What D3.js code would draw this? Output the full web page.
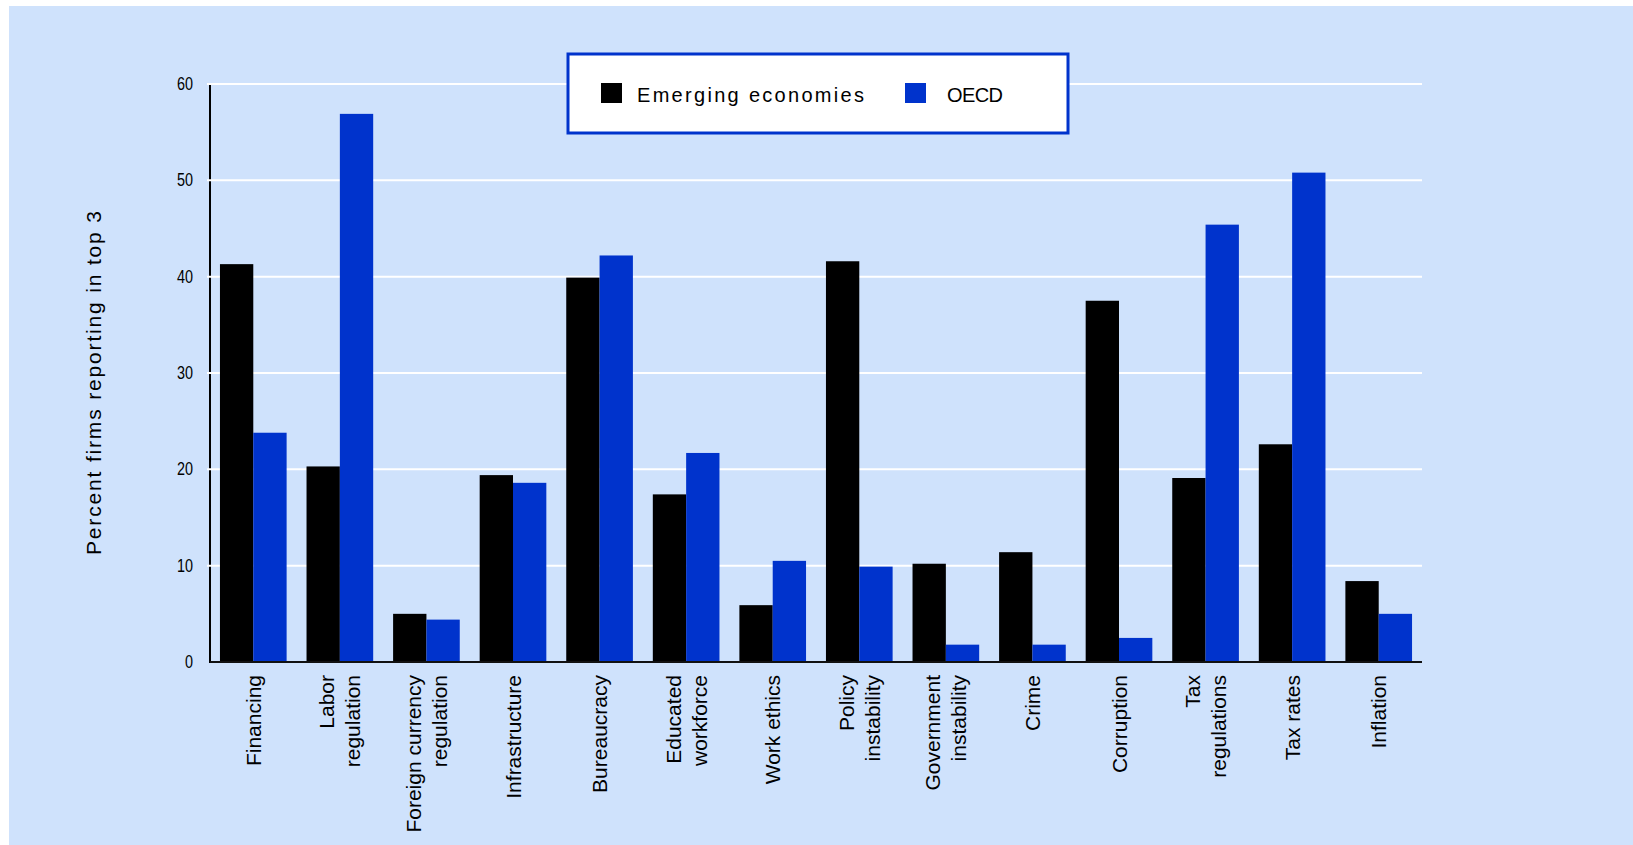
<!DOCTYPE html>
<html>
<head>
<meta charset="utf-8">
<script src="https://cdn.jsdelivr.net/npm/d3@7"></script>
<style>
  html, body { margin: 0; padding: 0; background: #ffffff; }
  svg { display: block; }
  text { font-family: "Liberation Sans", Arial, sans-serif; fill: #000; }
</style>
</head>
<body>
<svg id="chart" width="1633" height="845"></svg>
<script>
// ---- Data ----
const categories = [
  ["Financing"],
  ["Labor", "regulation"],
  ["Foreign currency", "regulation"],
  ["Infrastructure"],
  ["Bureaucracy"],
  ["Educated", "workforce"],
  ["Work ethics"],
  ["Policy", "instability"],
  ["Government", "instability"],
  ["Crime"],
  ["Corruption"],
  ["Tax", "regulations"],
  ["Tax rates"],
  ["Inflation"]
];
const seriesNames = ["Emerging economies", "OECD"];
const emerging = [41.3, 20.3, 5.0, 19.4, 39.9, 17.4, 5.9, 41.6, 10.2, 11.4, 37.5, 19.1, 22.6, 8.4];
const oecd     = [23.8, 56.9, 4.4, 18.6, 42.2, 21.7, 10.5, 9.9, 1.8, 1.8, 2.5, 45.4, 50.8, 5.0];
const yTicks = [0, 10, 20, 30, 40, 50, 60];
const yTitle = "Percent firms reporting in top 3";

// ---- Layout ----
const W = 1633, H = 845;
const colors = { "Emerging economies": "#000000", "OECD": "#0033cc" };
const bg = "#cfe2fc";
const plot = { left: 210, right: 1422, top: 84, bottom: 662 };

const svg = d3.select("#chart");

// panel background
svg.append("rect").attr("x", 9).attr("y", 6).attr("width", W - 9).attr("height", H - 6).attr("fill", bg);

const catKeys = categories.map(c => c.join(" "));
const x0 = d3.scaleBand().domain(catKeys).range([plot.left, plot.right]).paddingInner(0.23).paddingOuter(0.115);
const x1 = d3.scaleBand().domain(seriesNames).range([0, x0.bandwidth()]).padding(0);
const y = d3.scaleLinear().domain([0, 60]).range([plot.bottom, plot.top]);

// y axis line
svg.append("line").attr("x1", plot.left).attr("x2", plot.left)
  .attr("y1", y(60)).attr("y2", y(0) + 1).attr("stroke", "#000").attr("stroke-width", 2);

// gridlines
svg.append("g").selectAll("line").data(yTicks.filter(d => d > 0)).join("line")
  .attr("x1", plot.left - 3).attr("x2", plot.right)
  .attr("y1", d => y(d)).attr("y2", d => y(d))
  .attr("stroke", "#ffffff").attr("stroke-width", 2);

// y tick labels
svg.append("g").selectAll("text").data(yTicks).join("text")
  .attr("x", 193).attr("y", d => y(d))
  .attr("text-anchor", "end").attr("dominant-baseline", "central")
  .attr("font-size", 18)
  .attr("textLength", d => String(d).length * 8)
  .attr("lengthAdjust", "spacingAndGlyphs")
  .text(d => d);

// bars
const rows = catKeys.map((k, i) => ({ key: k, values: [
  { s: seriesNames[0], v: emerging[i] },
  { s: seriesNames[1], v: oecd[i] }
]}));
const groups = svg.append("g").selectAll("g").data(rows).join("g")
  .attr("transform", d => `translate(${x0(d.key)},0)`);
groups.selectAll("rect").data(d => d.values).join("rect")
  .attr("x", d => x1(d.s))
  .attr("width", x1.bandwidth())
  .attr("y", d => y(d.v))
  .attr("height", d => y(0) - y(d.v))
  .attr("fill", d => colors[d.s]);

// baseline
svg.append("line").attr("x1", plot.left).attr("x2", plot.right)
  .attr("y1", y(0)).attr("y2", y(0)).attr("stroke", "#111").attr("stroke-width", 2);

// x labels (rotated)
const lineGap = 26;
categories.forEach((lines, i) => {
  const cx = x0(catKeys[i]) + x0.bandwidth() / 2;
  const n = lines.length;
  lines.forEach((t, j) => {
    const lx = cx + (j - (n - 1) / 2) * lineGap;
    svg.append("text")
      .attr("transform", `translate(${lx},675) rotate(-90)`)
      .attr("text-anchor", "end")
      .attr("dominant-baseline", "central")
      .attr("font-size", 21)
      .text(t);
  });
});

// y axis title
svg.append("text")
  .attr("transform", `translate(93,383) rotate(-90)`)
  .attr("text-anchor", "middle").attr("dominant-baseline", "central")
  .attr("font-size", 21)
  .attr("textLength", 344).attr("lengthAdjust", "spacing")
  .text(yTitle);

// legend
const lg = svg.append("g");
lg.append("rect").attr("x", 568).attr("y", 54).attr("width", 500).attr("height", 79)
  .attr("fill", "#ffffff").attr("stroke", "#0033cc").attr("stroke-width", 3);
const legendItems = [
  { s: seriesNames[0], sx: 601, tx: 637, len: 227 },
  { s: seriesNames[1], sx: 905, tx: 947, len: 56 }
];
legendItems.forEach(it => {
  lg.append("rect").attr("x", it.sx).attr("y", 83).attr("width", 21).attr("height", 20).attr("fill", colors[it.s]);
  lg.append("text").attr("x", it.tx).attr("y", 102).attr("font-size", 20)
    .attr("textLength", it.len).attr("lengthAdjust", "spacing").text(it.s);
});
</script>
</body>
</html>
